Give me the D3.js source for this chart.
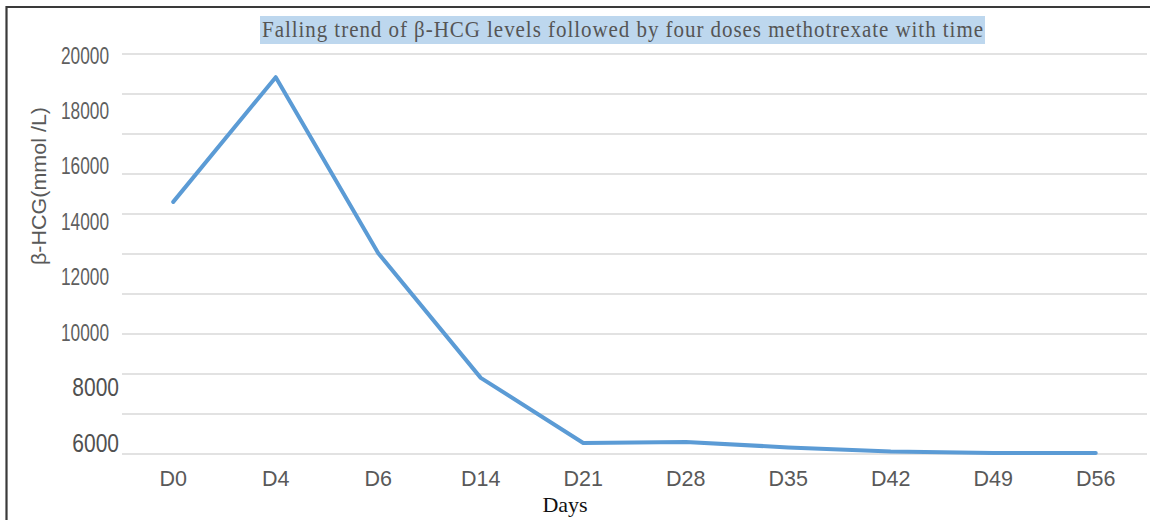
<!DOCTYPE html>
<html>
<head>
<meta charset="utf-8">
<script src="https://cdn.jsdelivr.net/npm/d3@7"></script>
<style>
  html, body { margin: 0; padding: 0; background: #fff; }
  svg { display: block; }
</style>
</head>
<body>
<svg id="chart" width="1150" height="520"></svg>
<script>
const days = ["D0", "D4", "D6", "D14", "D21", "D28", "D35", "D42", "D49", "D56"];
const hcgValues = [14700, 19200, 12850, 8350, 6000, 6040, 5840, 5690, 5640, 5640];
const yTickLabels = [20000, 18000, 16000, 14000, 12000, 10000, 8000, 6000];
const gridSteps = [0, 1, 2, 3, 4, 5, 6, 7, 8, 9, 10];
const titleText = "Falling trend of \u03b2-HCG levels followed by four doses methotrexate with time";
const yTitle = "\u03b2-HCG(mmol /L)";
const xTitle = "Days";

const svg = d3.select("#chart");
svg.append("rect").attr("width", 1150).attr("height", 520).attr("fill", "#fff");

// outer frame (only left and top edges visible in the crop)
svg.append("path")
  .attr("d", "M6.5,525 V7 H1160")
  .attr("fill", "none").attr("stroke", "#3a3a3a").attr("stroke-width", 2.2);

const left = 122, right = 1147;
const x = d3.scalePoint().domain(days).range([left, right]).padding(0.5);
const y = d3.scaleLinear().domain([6000, 20000]).range([443, 55]);
const grid = d3.scaleLinear().domain([0, 10]).range([454, 54]);

// gridlines
svg.append("g").selectAll("line").data(gridSteps).join("line")
  .attr("x1", left).attr("x2", right)
  .attr("y1", d => grid(d)).attr("y2", d => grid(d))
  .attr("stroke", "#d9d9d9").attr("stroke-width", 1.6);

// y tick labels
svg.append("g").selectAll("text").data(yTickLabels).join("text")
  .attr("transform", d => d < 9000
      ? `translate(119,${y(d)}) scale(0.84,1)`
      : `translate(109,${y(d)}) scale(0.72,1)`)
  .attr("text-anchor", "end")
  .attr("dominant-baseline", "central")
  .attr("font-family", "Liberation Sans, Arial, sans-serif")
  .attr("font-size", d => d < 9000 ? 25 : 24)
  .attr("fill", d => d < 9000 ? "#505050" : "#5f5f5f")
  .text(d => d);

// x axis labels
svg.append("g").selectAll("text").data(days).join("text")
  .attr("x", d => x(d)).attr("y", 486)
  .attr("text-anchor", "middle")
  .attr("font-family", "Liberation Sans, Arial, sans-serif")
  .attr("font-size", 21.5)
  .attr("fill", "#595959")
  .text(d => d);

// data line
const line = d3.line().x((d, i) => x(days[i])).y(d => y(d));
svg.append("path").datum(hcgValues)
  .attr("d", line)
  .attr("fill", "none")
  .attr("stroke", "#5b9bd5")
  .attr("stroke-width", 4)
  .attr("stroke-linejoin", "round")
  .attr("stroke-linecap", "round");

// title with highlight
svg.append("rect")
  .attr("x", 260).attr("y", 16).attr("width", 725).attr("height", 28)
  .attr("fill", "#bdd7ee");
svg.append("text")
  .attr("transform", "translate(262,37) scale(1,1.1)")
  .attr("textLength", 721).attr("lengthAdjust", "spacing")
  .attr("font-family", "Liberation Serif, Times New Roman, serif")
  .attr("font-size", 21)
  .attr("fill", "#555")
  .text(titleText);

// y axis title
svg.append("text")
  .attr("transform", "translate(46,186) rotate(-90)")
  .attr("text-anchor", "middle")
  .attr("textLength", 158).attr("lengthAdjust", "spacingAndGlyphs")
  .attr("font-family", "Liberation Sans, Arial, sans-serif")
  .attr("font-size", 21)
  .attr("fill", "#595959")
  .text(yTitle);

// x axis title
svg.append("text")
  .attr("x", 565).attr("y", 512)
  .attr("text-anchor", "middle")
  .attr("font-family", "Liberation Serif, Times New Roman, serif")
  .attr("font-size", 22)
  .attr("fill", "#111")
  .text(xTitle);
</script>
</body>
</html>
